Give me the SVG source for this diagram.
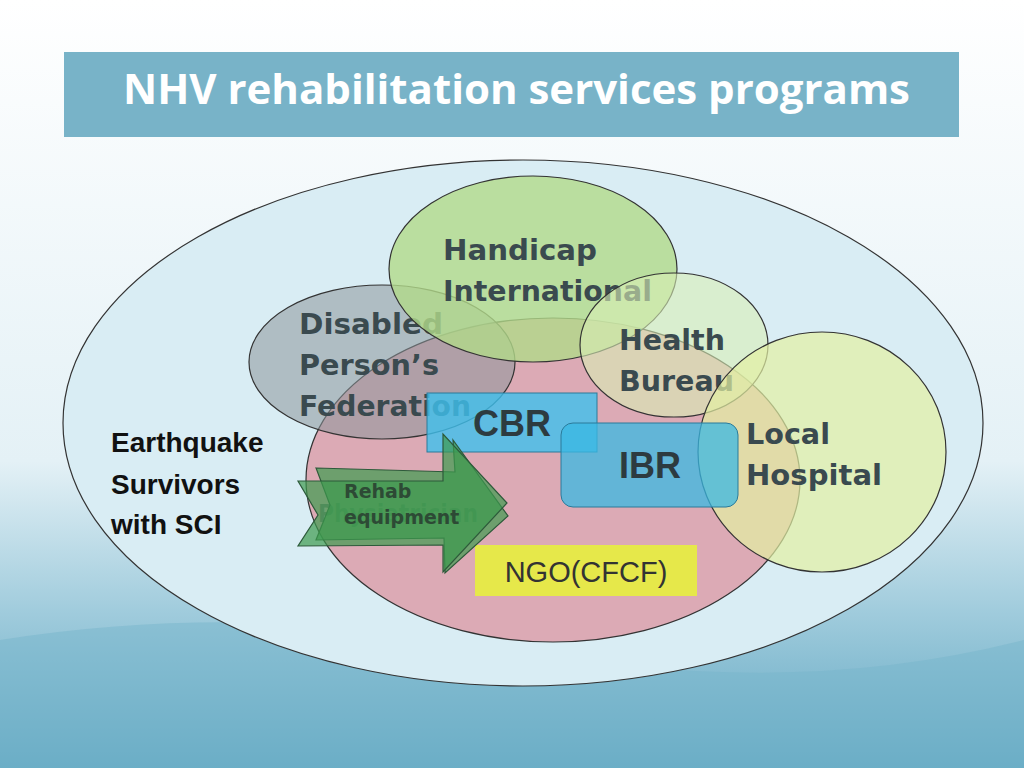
<svg xmlns="http://www.w3.org/2000/svg" width="1024" height="768" viewBox="0 0 1024 768">
<defs>
<linearGradient id="bg" x1="0" y1="0" x2="0" y2="1">
<stop offset="0" stop-color="#ffffff"/><stop offset="0.6" stop-color="#e4f1f6"/><stop offset="0.8" stop-color="#9fcbdc"/><stop offset="1" stop-color="#5fa6c1"/>
</linearGradient>
<style>
.e{stroke:#333;stroke-width:1.2}
.lab{font-family:"DejaVu Sans",sans-serif;font-weight:bold;fill:#3a4a4f;font-size:28px}
.arr{fill:#3d9a4f;fill-opacity:0.7;stroke:#2d5a3a;stroke-width:1.2}
.eq{font-family:'Liberation Sans',sans-serif;font-weight:bold;font-size:28px;fill:#111}
</style>
</defs>
<rect width="1024" height="768" fill="url(#bg)"/>
<path d="M0 640 Q250 600 520 650 T1024 640 V768 H0Z" fill="#78b6cc" opacity="0.5"/>
<g id="title"><rect x="64" y="52" width="895" height="85" fill="#78b3c8"/>
<text x="123" y="104" textLength="787" lengthAdjust="spacingAndGlyphs" font-family="'Open Sans',sans-serif" font-weight="bold" font-size="42" fill="#fff">NHV rehabilitation services programs</text></g>
<g id="outer"><ellipse cx="523" cy="423" rx="460" ry="263" fill="#d9edf4" class="e"/>
<text class="eq" x="111" y="452">Earthquake</text>
<text class="eq" x="111" y="494">Survivors</text>
<text class="eq" x="111" y="534">with SCI</text></g>
<g id="pink"><ellipse cx="553" cy="480" rx="247" ry="162" fill="#dcaab5" class="e"/></g>
<g id="disabled"><ellipse cx="382" cy="362" rx="133" ry="77" fill="#8c959a" fill-opacity="0.55" class="e"/>
<text class="lab" x="299" y="334" textLength="144" lengthAdjust="spacingAndGlyphs">Disabled</text><text class="lab" x="299" y="375" textLength="140" lengthAdjust="spacingAndGlyphs">Person’s</text><text class="lab" x="299" y="416" textLength="172" lengthAdjust="spacingAndGlyphs">Federation</text></g>
<g id="handicap"><ellipse cx="533" cy="269" rx="144" ry="93" fill="#b2d98a" fill-opacity="0.8" class="e"/>
<text class="lab" x="443" y="260" textLength="154" lengthAdjust="spacingAndGlyphs">Handicap</text><text class="lab" x="443" y="301" textLength="209" lengthAdjust="spacingAndGlyphs">International</text></g>
<g id="health"><ellipse cx="674" cy="345" rx="94" ry="72" fill="#d9efb5" fill-opacity="0.6" class="e"/>
<text class="lab" x="619" y="350" textLength="106" lengthAdjust="spacingAndGlyphs">Health</text><text class="lab" x="619" y="391" textLength="115" lengthAdjust="spacingAndGlyphs">Bureau</text></g>
<g id="hospital"><ellipse cx="822" cy="452" rx="124" ry="120" fill="#e2efa3" fill-opacity="0.7" class="e"/>
<text class="lab" x="746" y="444" textLength="84" lengthAdjust="spacingAndGlyphs">Local</text><text class="lab" x="746" y="485" textLength="136" lengthAdjust="spacingAndGlyphs">Hospital</text></g>
<g id="cbr"><rect x="427" y="393" width="170" height="59" fill="#3ec0ee" fill-opacity="0.8" stroke="#2a7a9a"/>
<text x="512" y="436" text-anchor="middle" font-family="'Liberation Sans',sans-serif" font-weight="bold" font-size="36" fill="#2d3b40">CBR</text></g>
<g id="ibr"><rect x="561" y="423" width="177" height="84" rx="12" fill="#3ab8e3" fill-opacity="0.75" stroke="#2a7a9a"/>
<text x="650" y="478" text-anchor="middle" font-family="'Liberation Sans',sans-serif" font-weight="bold" font-size="36" fill="#2d3b40">IBR</text></g>
<g id="ngo"><rect x="475" y="545" width="222" height="51" fill="#e6e84a"/>
<text x="586" y="582" text-anchor="middle" font-family="'Liberation Sans',sans-serif" font-size="29" fill="#333">NGO(CFCF)</text></g>
<g id="connectors">
<text x="318" y="522" textLength="160" lengthAdjust="spacingAndGlyphs" font-family="'DejaVu Sans',sans-serif" font-weight="bold" font-size="24" fill="#3a4a4f" opacity="0.6">Physiatrician</text>
<path class="arr" d="M316 468 L455 472 L453 440 L508 516 L445 573 L444 538 L316 540 L330 505Z"/>
<path class="arr" d="M298 481 L443 481 L443 434 L507 503 L443 572 L443 545 L298 546 L318 515Z"/>
<text x="344" y="498" font-family="'DejaVu Sans',sans-serif" font-weight="bold" font-size="19" fill="#2d4a35">Rehab</text>
<text x="344" y="524" font-family="'DejaVu Sans',sans-serif" font-weight="bold" font-size="19" fill="#2d4a35">equipment</text>
</g>
</svg>
